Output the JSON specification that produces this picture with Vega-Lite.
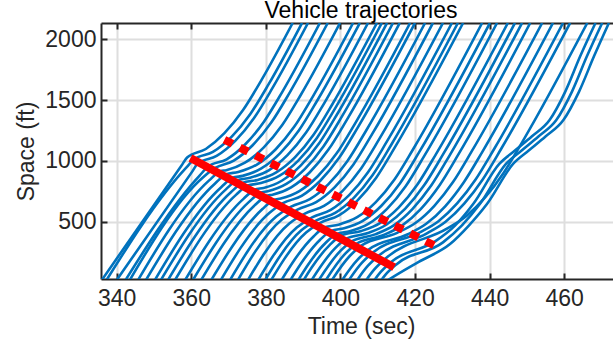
{
  "$schema": "https://vega.github.io/schema/vega-lite/v6.json",
  "width": 512,
  "height": 256,
  "autosize": {"type": "none"},
  "padding": {"left": 101, "top": 23, "right": 0, "bottom": 64},
  "background": "#ffffff",
  "title": {"text": "Vehicle trajectories", "fontSize": 23, "fontWeight": "normal", "color": "#000000", "font": "Liberation Sans", "anchor": "middle", "frame": "group", "baseline": "alphabetic", "offset": -19, "dx": 4},
  "config": {
    "font": "Liberation Sans",
    "view": {"stroke": null},
    "axis": {"domainColor": "#262626", "domainWidth": 2, "tickColor": "#262626", "tickWidth": 2, "labelColor": "#262626", "titleColor": "#262626", "labelFontSize": 23, "titleFontSize": 23, "titleFontWeight": "normal", "gridColor": "#dedede", "gridWidth": 2, "gridOpacity": 1, "labelFlush": false, "labelOverlap": false, "format": "d"}
  },
  "datasets": {
    "traj": [
{"v":0,"t":333.0,"y":-112},{"v":0,"t":357.4,"y":962},{"v":0,"t":358.9,"y":1028},{"v":0,"t":363.9,"y":1098},{"v":0,"t":368.9,"y":1228},{"v":0,"t":373.9,"y":1418},{"v":0,"t":378.9,"y":1668},{"v":0,"t":387.2,"y":2134},
{"v":1,"t":334.6,"y":-112},{"v":1,"t":358.6,"y":943},{"v":1,"t":360.8,"y":1013},{"v":1,"t":365.8,"y":1074},{"v":1,"t":370.8,"y":1198},{"v":1,"t":375.8,"y":1384},{"v":1,"t":380.8,"y":1633},{"v":1,"t":389.7,"y":2134},
{"v":2,"t":337.0,"y":-112},{"v":2,"t":360.3,"y":914},{"v":2,"t":361.8,"y":980},{"v":2,"t":366.8,"y":1041},{"v":2,"t":371.8,"y":1165},{"v":2,"t":376.8,"y":1351},{"v":2,"t":381.8,"y":1600},{"v":2,"t":391.3,"y":2134},
{"v":3,"t":339.7,"y":-112},{"v":3,"t":362.3,"y":882},{"v":3,"t":364.5,"y":952},{"v":3,"t":369.5,"y":1013},{"v":3,"t":374.5,"y":1137},{"v":3,"t":379.5,"y":1323},{"v":3,"t":384.5,"y":1572},{"v":3,"t":394.5,"y":2134},
{"v":4,"t":341.0,"y":-112},{"v":4,"t":363.2,"y":866},{"v":4,"t":366.4,"y":942},{"v":4,"t":371.4,"y":1003},{"v":4,"t":376.4,"y":1127},{"v":4,"t":381.4,"y":1313},{"v":4,"t":386.4,"y":1562},{"v":4,"t":396.6,"y":2134},
{"v":5,"t":343.2,"y":-112},{"v":5,"t":364.8,"y":840},{"v":5,"t":367.8,"y":915},{"v":5,"t":369.4,"y":924},{"v":5,"t":374.4,"y":985},{"v":5,"t":379.4,"y":1109},{"v":5,"t":384.4,"y":1295},{"v":5,"t":389.4,"y":1544},{"v":5,"t":399.9,"y":2134},
{"v":6,"t":345.3,"y":-112},{"v":6,"t":366.4,"y":815},{"v":6,"t":369.4,"y":890},{"v":6,"t":372.6,"y":909},{"v":6,"t":377.6,"y":970},{"v":6,"t":382.6,"y":1094},{"v":6,"t":387.6,"y":1280},{"v":6,"t":392.6,"y":1529},{"v":6,"t":403.4,"y":2134},
{"v":7,"t":347.7,"y":-112},{"v":7,"t":368.1,"y":786},{"v":7,"t":371.1,"y":861},{"v":7,"t":373.8,"y":877},{"v":7,"t":378.8,"y":938},{"v":7,"t":383.8,"y":1062},{"v":7,"t":388.8,"y":1248},{"v":7,"t":393.8,"y":1497},{"v":7,"t":405.2,"y":2134},
{"v":8,"t":349.3,"y":-112},{"v":8,"t":369.3,"y":766},{"v":8,"t":372.3,"y":841},{"v":8,"t":375.8,"y":862},{"v":8,"t":380.8,"y":923},{"v":8,"t":385.8,"y":1047},{"v":8,"t":390.8,"y":1233},{"v":8,"t":395.8,"y":1482},{"v":8,"t":407.4,"y":2134},
{"v":9,"t":351.2,"y":-112},{"v":9,"t":370.7,"y":744},{"v":9,"t":373.7,"y":819},{"v":9,"t":377.8,"y":844},{"v":9,"t":382.8,"y":905},{"v":9,"t":387.8,"y":1029},{"v":9,"t":392.8,"y":1215},{"v":9,"t":397.8,"y":1464},{"v":9,"t":409.8,"y":2134},
{"v":10,"t":353.1,"y":-112},{"v":10,"t":372.0,"y":721},{"v":10,"t":375.0,"y":796},{"v":10,"t":378.7,"y":818},{"v":10,"t":383.7,"y":879},{"v":10,"t":388.7,"y":1003},{"v":10,"t":393.7,"y":1189},{"v":10,"t":398.7,"y":1438},{"v":10,"t":411.1,"y":2134},
{"v":11,"t":355.8,"y":-112},{"v":11,"t":374.0,"y":688},{"v":11,"t":377.0,"y":763},{"v":11,"t":379.4,"y":778},{"v":11,"t":384.4,"y":839},{"v":11,"t":389.4,"y":963},{"v":11,"t":394.4,"y":1149},{"v":11,"t":399.4,"y":1398},{"v":11,"t":412.5,"y":2134},
{"v":12,"t":357.9,"y":-112},{"v":12,"t":375.5,"y":663},{"v":12,"t":378.5,"y":738},{"v":12,"t":380.5,"y":750},{"v":12,"t":385.5,"y":811},{"v":12,"t":390.5,"y":935},{"v":12,"t":395.5,"y":1121},{"v":12,"t":400.5,"y":1370},{"v":12,"t":414.1,"y":2134},
{"v":13,"t":360.1,"y":-112},{"v":13,"t":377.1,"y":637},{"v":13,"t":380.1,"y":712},{"v":13,"t":381.8,"y":722},{"v":13,"t":386.8,"y":783},{"v":13,"t":391.8,"y":907},{"v":13,"t":396.8,"y":1093},{"v":13,"t":401.8,"y":1342},{"v":13,"t":415.9,"y":2134},
{"v":14,"t":362.8,"y":-112},{"v":14,"t":379.1,"y":604},{"v":14,"t":382.1,"y":679},{"v":14,"t":384.0,"y":691},{"v":14,"t":389.0,"y":752},{"v":14,"t":394.0,"y":876},{"v":14,"t":399.0,"y":1062},{"v":14,"t":404.0,"y":1311},{"v":14,"t":418.7,"y":2134},
{"v":15,"t":365.4,"y":-112},{"v":15,"t":381.0,"y":573},{"v":15,"t":384.6,"y":652},{"v":15,"t":389.6,"y":713},{"v":15,"t":394.6,"y":837},{"v":15,"t":399.6,"y":1023},{"v":15,"t":404.6,"y":1272},{"v":15,"t":420.0,"y":2134},
{"v":16,"t":367.9,"y":-112},{"v":16,"t":382.8,"y":543},{"v":16,"t":386.8,"y":624},{"v":16,"t":391.8,"y":685},{"v":16,"t":396.8,"y":809},{"v":16,"t":401.8,"y":995},{"v":16,"t":406.8,"y":1244},{"v":16,"t":422.7,"y":2134},
{"v":17,"t":370.0,"y":-112},{"v":17,"t":384.3,"y":518},{"v":17,"t":388.5,"y":600},{"v":17,"t":393.5,"y":661},{"v":17,"t":398.5,"y":785},{"v":17,"t":403.5,"y":971},{"v":17,"t":408.5,"y":1220},{"v":17,"t":424.8,"y":2134},
{"v":18,"t":372.7,"y":-112},{"v":18,"t":386.3,"y":486},{"v":18,"t":390.6,"y":569},{"v":18,"t":395.6,"y":630},{"v":18,"t":400.6,"y":754},{"v":18,"t":405.6,"y":940},{"v":18,"t":410.6,"y":1189},{"v":18,"t":427.5,"y":2134},
{"v":19,"t":375.4,"y":-112},{"v":19,"t":388.3,"y":453},{"v":19,"t":392.4,"y":536},{"v":19,"t":397.4,"y":597},{"v":19,"t":402.4,"y":721},{"v":19,"t":407.4,"y":907},{"v":19,"t":412.4,"y":1156},{"v":19,"t":429.9,"y":2134},
{"v":20,"t":377.3,"y":-112},{"v":20,"t":389.6,"y":431},{"v":20,"t":393.6,"y":511},{"v":20,"t":398.6,"y":572},{"v":20,"t":403.6,"y":696},{"v":20,"t":408.6,"y":882},{"v":20,"t":413.6,"y":1131},{"v":20,"t":431.5,"y":2134},
{"v":21,"t":378.9,"y":-112},{"v":21,"t":390.8,"y":411},{"v":21,"t":394.6,"y":491},{"v":21,"t":399.6,"y":552},{"v":21,"t":404.6,"y":676},{"v":21,"t":409.6,"y":862},{"v":21,"t":414.6,"y":1111},{"v":21,"t":432.9,"y":2134},
{"v":22,"t":381.6,"y":-112},{"v":22,"t":392.8,"y":379},{"v":22,"t":395.8,"y":454},{"v":22,"t":399.5,"y":476},{"v":22,"t":404.5,"y":537},{"v":22,"t":409.5,"y":661},{"v":22,"t":414.5,"y":847},{"v":22,"t":419.5,"y":1096},{"v":22,"t":438.0,"y":2134},
{"v":23,"t":384.0,"y":-112},{"v":23,"t":394.5,"y":350},{"v":23,"t":397.5,"y":425},{"v":23,"t":401.0,"y":446},{"v":23,"t":406.0,"y":507},{"v":23,"t":411.0,"y":631},{"v":23,"t":416.0,"y":817},{"v":23,"t":421.0,"y":1066},{"v":23,"t":440.1,"y":2134},
{"v":24,"t":386.1,"y":-112},{"v":24,"t":396.0,"y":325},{"v":24,"t":399.0,"y":400},{"v":24,"t":402.5,"y":421},{"v":24,"t":407.5,"y":482},{"v":24,"t":412.5,"y":606},{"v":24,"t":417.5,"y":792},{"v":24,"t":422.5,"y":1041},{"v":24,"t":442.0,"y":2134},
{"v":25,"t":387.5,"y":-112},{"v":25,"t":397.1,"y":308},{"v":25,"t":400.1,"y":385},{"v":25,"t":405.6,"y":424},{"v":25,"t":410.6,"y":489},{"v":25,"t":415.6,"y":616},{"v":25,"t":420.6,"y":804},{"v":25,"t":425.6,"y":1054},{"v":25,"t":444.9,"y":2134},
{"v":26,"t":389.6,"y":-112},{"v":26,"t":398.6,"y":283},{"v":26,"t":401.6,"y":361},{"v":26,"t":407.4,"y":407},{"v":26,"t":412.4,"y":477},{"v":26,"t":417.4,"y":607},{"v":26,"t":422.4,"y":797},{"v":26,"t":427.4,"y":1047},{"v":26,"t":446.8,"y":2134},
{"v":27,"t":391.5,"y":-112},{"v":27,"t":400.0,"y":260},{"v":27,"t":403.0,"y":339},{"v":27,"t":409.3,"y":396},{"v":27,"t":414.3,"y":470},{"v":27,"t":419.3,"y":604},{"v":27,"t":424.3,"y":795},{"v":27,"t":429.3,"y":1046},{"v":27,"t":448.7,"y":2134},
{"v":28,"t":393.4,"y":-112},{"v":28,"t":401.3,"y":237},{"v":28,"t":404.3,"y":318},{"v":28,"t":411.6,"y":391},{"v":28,"t":416.6,"y":470},{"v":28,"t":421.6,"y":606},{"v":28,"t":426.6,"y":800},{"v":28,"t":431.6,"y":1051},{"v":28,"t":450.9,"y":2134},
{"v":29,"t":395.0,"y":-112},{"v":29,"t":402.5,"y":218},{"v":29,"t":405.5,"y":301},{"v":29,"t":415.2,"y":408},{"v":29,"t":420.2,"y":491},{"v":29,"t":425.2,"y":631},{"v":29,"t":430.2,"y":826},{"v":29,"t":435.2,"y":1078},{"v":29,"t":454.1,"y":2134},
{"v":30,"t":397.7,"y":-112},{"v":30,"t":404.5,"y":185},{"v":30,"t":407.5,"y":269},{"v":30,"t":418.1,"y":397},{"v":30,"t":423.1,"y":485},{"v":30,"t":428.1,"y":627},{"v":30,"t":433.1,"y":825},{"v":30,"t":438.1,"y":1077},{"v":30,"t":457.0,"y":2134},
{"v":31,"t":399.5,"y":-112},{"v":31,"t":405.8,"y":164},{"v":31,"t":408.8,"y":249},{"v":31,"t":421.3,"y":412},{"v":31,"t":426.3,"y":504},{"v":31,"t":431.3,"y":650},{"v":31,"t":436.3,"y":849},{"v":31,"t":441.3,"y":1102},{"v":31,"t":459.7,"y":2134},
{"v":32,"t":401.7,"y":-112},{"v":32,"t":407.4,"y":138},{"v":32,"t":410.4,"y":224},{"v":32,"t":423.2,"y":404},{"v":32,"t":428.2,"y":500},{"v":32,"t":433.2,"y":649},{"v":32,"t":438.2,"y":850},{"v":32,"t":443.2,"y":1104},{"v":32,"t":461.6,"y":2134},
{"v":33,"t":404.1,"y":-112},{"v":33,"t":409.1,"y":108},{"v":33,"t":412.1,"y":197},{"v":33,"t":428.8,"y":447},{"v":33,"t":433.8,"y":548},{"v":33,"t":438.8,"y":700},{"v":33,"t":443.8,"y":903},{"v":33,"t":448.8,"y":1157},{"v":33,"t":466.2,"y":2134},
{"v":34,"t":406.3,"y":-112},{"v":34,"t":410.7,"y":83},{"v":34,"t":413.7,"y":171},{"v":34,"t":425.5,"y":340},{"v":34,"t":430.8,"y":470},{"v":34,"t":435.6,"y":645},{"v":34,"t":442.6,"y":975},{"v":34,"t":446.8,"y":1085},{"v":34,"t":451.3,"y":1200},{"v":34,"t":456.1,"y":1336},{"v":34,"t":460.3,"y":1570},{"v":34,"t":464.3,"y":1860},{"v":34,"t":468.4,"y":2134},
{"v":35,"t":408.1,"y":-112},{"v":35,"t":412.0,"y":61},{"v":35,"t":415.0,"y":149},{"v":35,"t":427.5,"y":330},{"v":35,"t":432.6,"y":470},{"v":35,"t":437.4,"y":645},{"v":35,"t":444.4,"y":975},{"v":35,"t":448.6,"y":1085},{"v":35,"t":453.1,"y":1200},{"v":35,"t":457.9,"y":1336},{"v":35,"t":462.1,"y":1570},{"v":35,"t":466.1,"y":1860},{"v":35,"t":470.2,"y":2134},
{"v":36,"t":406.5,"y":-112},{"v":36,"t":413.3,"y":30},{"v":36,"t":421.0,"y":170},{"v":36,"t":429.4,"y":316},{"v":36,"t":434.5,"y":470},{"v":36,"t":439.3,"y":645},{"v":36,"t":446.3,"y":975},{"v":36,"t":450.5,"y":1085},{"v":36,"t":455.0,"y":1200},{"v":36,"t":459.8,"y":1336},{"v":36,"t":464.0,"y":1570},{"v":36,"t":468.0,"y":1860},{"v":36,"t":472.0,"y":2134}
    ],
    "shock": [{"t": 359.8, "y": 1024}, {"t": 414.4, "y": 125}],
    "release": [{"t": 368.9, "y": 1174}, {"t": 425.1, "y": 306}]
  },
  "layer": [
    {
      "data": {"name": "traj"},
      "mark": {"type": "line", "interpolate": "monotone", "clip": true, "strokeWidth": 2.6, "color": "#0072BD"},
      "encoding": {
        "x": {"field": "t", "type": "quantitative", "scale": {"domain": [335.8, 473.1], "nice": false, "zero": false},
              "axis": {"orient": "bottom", "values": [340, 360, 380, 400, 420, 440, 460], "tickSize": -6, "labelPadding": 14, "grid": true, "title": "Time (sec)", "titlePadding": 5, "titleX": 260}},
        "y": {"field": "y", "type": "quantitative", "scale": {"domain": [29, 2134], "nice": false, "zero": false},
              "axis": {"orient": "left", "values": [500, 1000, 1500, 2000], "tickSize": -6, "labelPadding": 11, "grid": true, "title": "Space (ft)", "titlePadding": 6}},
        "detail": {"field": "v", "type": "nominal"}
      }
    },
    {
      "data": {"name": "shock"},
      "mark": {"type": "line", "clip": true, "strokeWidth": 8, "color": "#ff0000", "strokeCap": "butt"},
      "encoding": {
        "x": {"field": "t", "type": "quantitative", "scale": {"domain": [335.8, 473.1], "nice": false, "zero": false},
              "axis": {"orient": "top", "values": [340, 360, 380, 400, 420, 440, 460], "tickSize": -6, "labels": false, "grid": false, "title": null}},
        "y": {"field": "y", "type": "quantitative", "scale": {"domain": [29, 2134], "nice": false, "zero": false}, "axis": null}
      }
    },
    {
      "data": {"name": "release"},
      "mark": {"type": "line", "clip": true, "strokeWidth": 8, "color": "#ff0000", "strokeCap": "butt", "strokeDash": [9, 8.35]},
      "encoding": {
        "x": {"field": "t", "type": "quantitative", "scale": {"domain": [335.8, 473.1], "nice": false, "zero": false}, "axis": null},
        "y": {"field": "y", "type": "quantitative", "scale": {"domain": [29, 2134], "nice": false, "zero": false}, "axis": null}
      }
    }
  ],
  "resolve": {"axis": {"x": "independent", "y": "independent"}}
}
